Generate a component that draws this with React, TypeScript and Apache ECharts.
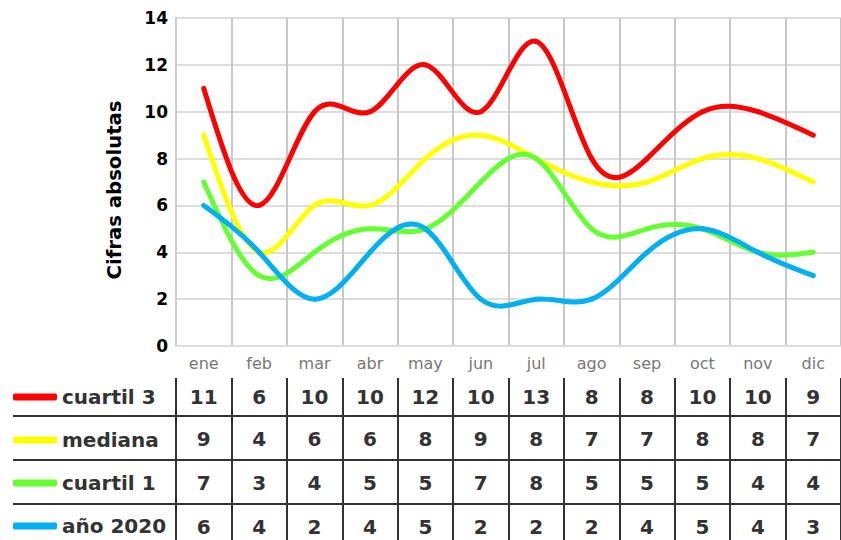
import React, { useEffect, useRef } from "react";
import * as echarts from "echarts";

const months = ["ene", "feb", "mar", "abr", "may", "jun", "jul", "ago", "sep", "oct", "nov", "dic"];
const seriesNames = ["cuartil 3", "mediana", "cuartil 1", "año 2020"];
const cuartil3 = [11, 6, 10, 10, 12, 10, 13, 8, 8, 10, 10, 9];
const mediana = [9, 4, 6, 6, 8, 9, 8, 7, 7, 8, 8, 7];
const cuartil1 = [7, 3, 4, 5, 5, 7, 8, 5, 5, 5, 4, 4];
const anio2020 = [6, 4, 2, 4, 5, 2, 2, 2, 4, 5, 4, 3];
const yTicks = { min: 0, max: 14, interval: 2 };
const colors = ["#ff0000", "#ffff00", "#66ff33", "#00b0f0"];

const allValues = [cuartil3, mediana, cuartil1, anio2020];

// natural cubic spline second derivatives (equal spacing h = 1)
function splineM(ys: number[]): number[] {
  const n = ys.length;
  const M = new Array(n).fill(0);
  if (n < 3) return M;
  const m = n - 2;
  const a: number[] = [], b: number[] = [], c: number[] = [], d: number[] = [];
  for (let i = 1; i <= m; i++) {
    a.push(1); b.push(4); c.push(1);
    d.push(6 * (ys[i + 1] - 2 * ys[i] + ys[i - 1]));
  }
  for (let i = 1; i < m; i++) {
    const w = a[i] / b[i - 1];
    b[i] -= w * c[i - 1];
    d[i] -= w * d[i - 1];
  }
  const x = new Array(m).fill(0);
  x[m - 1] = d[m - 1] / b[m - 1];
  for (let i = m - 2; i >= 0; i--) x[i] = (d[i] - c[i] * x[i + 1]) / b[i];
  for (let i = 0; i < m; i++) M[i + 1] = x[i];
  return M;
}

export default function App() {
  const ref = useRef<HTMLDivElement>(null);
  useEffect(() => {
    if (!ref.current) return;
    const chart = echarts.init(ref.current, undefined, { renderer: "svg" });
    const font = "DejaVu Sans";

    const series = allValues.map((vals, si) => {
      const M = splineM(vals);
      return {
        name: seriesNames[si],
        type: "custom",
        xAxisIndex: 0,
        yAxisIndex: 0,
        itemStyle: { color: colors[si] },
        encode: { x: 0, y: 1 },
        clip: false,
        data: vals.map((v, i) => [i, v]),
        renderItem: (params: any, api: any) => {
          const i = params.dataIndex;
          if (i >= vals.length - 1) return null;
          const y0 = vals[i], y1 = vals[i + 1];
          const d0 = y1 - y0 - (2 * M[i] + M[i + 1]) / 6;
          const d1 = y1 - y0 + (M[i] + 2 * M[i + 1]) / 6;
          const p0 = api.coord([i, y0]);
          const p3 = api.coord([i + 1, y1]);
          const c1 = api.coord([i, y0 + d0 / 3]);
          const c2 = api.coord([i, y1 - d1 / 3]);
          const dx = p3[0] - p0[0];
          return {
            type: "bezierCurve",
            shape: {
              x1: p0[0], y1: p0[1], x2: p3[0], y2: p3[1],
              cpx1: p0[0] + dx / 3, cpy1: c1[1],
              cpx2: p0[0] + (2 * dx) / 3, cpy2: c2[1],
            },
            style: { stroke: colors[si], lineWidth: 5, fill: "none", lineCap: "round" },
          };
        },
      };
    });

    const rowOffsets = [32, 74, 118, 162];
    const tableAxes = allValues.map((vals, ri) => ({
      type: "category",
      gridIndex: 0,
      position: "bottom",
      offset: rowOffsets[ri],
      data: vals.map(String),
      boundaryGap: true,
      axisLine: { show: false },
      axisTick: {
        show: ri === 0,
        length: 170,
        lineStyle: { color: "#333", width: 2 },
      },
      splitLine: { show: false },
      axisLabel: {
        interval: 0,
        margin: 9,
        fontSize: 20,
        lineHeight: 20,
        fontWeight: "bold",
        color: "#333",
        fontFamily: font,
      },
    }));

    const option: any = {
      animation: false,
      backgroundColor: "#ffffff",
      textStyle: { fontFamily: font },
      grid: { left: 176, right: -4, top: 18, bottom: 194, containLabel: false },
      legend: {
        orient: "vertical",
        left: 13,
        top: 386,
        height: 154,
        padding: 0,
        itemWidth: 44,
        itemHeight: 7,
        itemGap: 21,
        icon: "roundRect",
        selectedMode: false,
        textStyle: { fontSize: 20, lineHeight: 22, fontWeight: "bold", color: "#333", fontFamily: font },
        data: seriesNames.map((n, i) => ({ name: n, itemStyle: { color: colors[i] } })),
      },
      xAxis: [
        {
          type: "category",
          gridIndex: 0,
          data: months,
          boundaryGap: true,
          axisLine: { show: true, lineStyle: { color: "#dddddd", width: 2 } },
          axisTick: { show: false },
          splitLine: { show: true, interval: 0, lineStyle: { color: "#c8c8c8", width: 2 } },
          axisLabel: { interval: 0, margin: 9, fontSize: 16, color: "#777", fontFamily: font },
        },
        ...tableAxes,
      ],
      yAxis: {
        type: "value",
        min: yTicks.min,
        max: yTicks.max,
        interval: yTicks.interval,
        name: "Cifras absolutas",
        nameLocation: "middle",
        nameGap: 52,
        nameTextStyle: {
          fontSize: 19.7,
          fontWeight: "bold",
          color: "#000",
          fontFamily: font,
          padding: [0, 16, 0, 0],
        },
        axisLine: { show: true, lineStyle: { color: "#cccccc", width: 2 } },
        axisTick: { show: false },
        splitLine: { show: true, lineStyle: { color: "#dddddd", width: 2 } },
        axisLabel: { fontSize: 17, fontWeight: "bold", color: "#000", margin: 8, fontFamily: font },
      },
      graphic: [416, 460, 504].map((y) => ({
        type: "line",
        shape: { x1: 13, y1: y, x2: 841, y2: y },
        style: { stroke: "#333", lineWidth: 2 },
        silent: true,
      })),
      series,
    };
    chart.setOption(option);
    return () => chart.dispose();
  }, []);
  return (
    <div
      ref={ref}
      style={{ position: "fixed", left: 0, top: 0, width: 841, height: 540, background: "#fff" }}
    />
  );
}
